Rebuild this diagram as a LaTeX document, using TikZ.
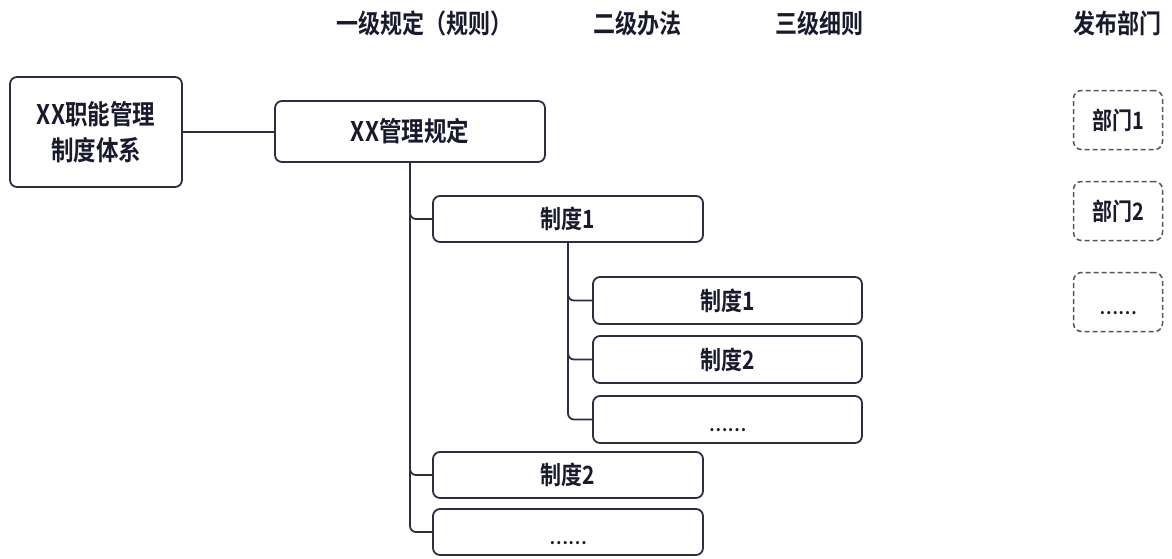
\documentclass[tikz,border=0pt]{standalone}
\usepackage{graphicx}
\usepackage{fontspec}
\setmainfont{Noto Sans CJK SC}[BoldFont={* Bold}]
\newcommand{\tx}[1]{\scalebox{1}[1.2]{#1}}
\newcommand{\ellip}{\raisebox{-12pt}[0pt][0pt]{\fontsize{17}{18}\selectfont\bfseries ……}}
\definecolor{navy}{HTML}{2B2D45}
\definecolor{txt}{HTML}{1A1A2E}
\definecolor{dashc}{HTML}{555555}
\begin{document}
\begin{tikzpicture}[x=1pt,y=-1pt,
  box/.style={draw=navy,line width=1.8pt,rounded corners=7pt,fill=white,inner sep=0pt,
    font=\bfseries\fontsize{21}{24}\selectfont,text=txt},
  dbox/.style={draw=dashc,line width=1.5pt,dashed,dash pattern=on 5pt off 3pt,rounded corners=8pt,
    minimum width=89pt,minimum height=59pt,inner sep=0pt,font=\bfseries\fontsize{20}{23}\selectfont,text=txt},
  hdr/.style={font=\bfseries\fontsize{22}{26}\selectfont,text=txt},
  conn/.style={draw=navy,line width=1.8pt,rounded corners=6pt}]
\useasboundingbox (0,0) rectangle (1172,558);
% headers
\node[hdr] (h1) at (424,23) {\tx{一级规定（规则）}};
\node[hdr] (h2) at (637,23) {\tx{二级办法}};
\node[hdr] (h3) at (819,23) {\tx{三级细则}};
\node[hdr] (h4) at (1117,23) {\tx{发布部门}};
% boxes
\node[box,minimum width=172pt,minimum height=110pt,align=center,font=\bfseries\fontsize{22.5}{36}\selectfont] (root) at (96,132) {\tx{XX职能管理}\\\tx{制度体系}};
\node[box,minimum width=270pt,minimum height=61pt,font=\bfseries\fontsize{22.5}{26}\selectfont] (l1) at (410,131.5) {\tx{XX管理规定}};
\node[box,minimum width=270pt,minimum height=46pt] (a) at (568,219) {\tx{制度1}};
\node[box,minimum width=269pt,minimum height=47pt] (a1) at (727.5,300.5) {\tx{制度1}};
\node[box,minimum width=269pt,minimum height=47pt] (a2) at (727.5,359.5) {\tx{制度2}};
\node[box,minimum width=269pt,minimum height=47pt] (a3) at (727.5,419.5) {\ellip};
\node[box,minimum width=270pt,minimum height=46pt] (b) at (568,475) {\tx{制度2}};
\node[box,minimum width=270pt,minimum height=46pt] (c) at (568,532) {\ellip};
% departments
\node[dbox] (d1) at (1118,120) {\tx{部门1}};
\node[dbox] (d2) at (1118,211) {\tx{部门2}};
\node[dbox] (d3) at (1118,302) {\ellip};
% connectors
\draw[conn] (root.east) -- (l1.west |- root.east);
\draw[conn] (l1.south) |- (a.west);
\draw[conn] (l1.south) |- (b.west);
\draw[conn] (l1.south) |- (c.west);
\draw[conn] (a.south) |- (a1.west);
\draw[conn] (a.south) |- (a2.west);
\draw[conn] (a.south) |- (a3.west);
\end{tikzpicture}
\end{document}
